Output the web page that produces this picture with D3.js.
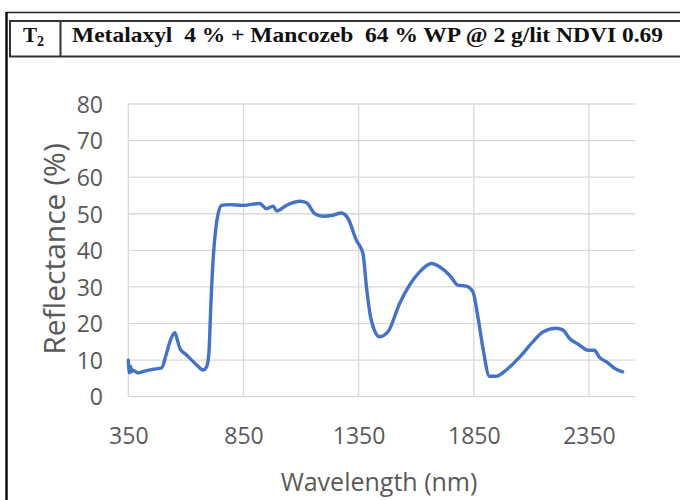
<!DOCTYPE html>
<html>
<head>
<meta charset="utf-8">
<script src="https://cdn.jsdelivr.net/npm/d3@7"></script>
<style>
  body { margin: 0; background: #fff; }
  svg { display: block; }
</style>
</head>
<body>
<div id="chart"></div>
<script>
// wavelength (nm) and reflectance (%)
const wavelength = [350, 355, 360, 365, 372, 392, 420, 458, 495, 516, 535, 552, 563, 574, 603, 625, 650, 675, 690, 700, 709, 719, 730, 740, 755, 790, 849, 921, 950, 979, 994, 1037, 1095, 1124, 1160, 1196, 1239, 1275, 1304, 1340, 1369, 1384, 1405, 1441, 1477, 1528, 1571, 1615, 1666, 1701, 1745, 1781, 1817, 1846, 1868, 1890, 1918, 1947, 1991, 2049, 2106, 2150, 2208, 2237, 2266, 2309, 2345, 2374, 2395, 2431, 2460, 2496];
const reflectance = [10, 6.5, 8.3, 6.8, 7.2, 6.5, 7, 7.5, 7.9, 11.9, 15.8, 17.5, 15.5, 13.2, 11.4, 10, 8.5, 7.3, 8.2, 12, 26, 38.2, 46, 50, 52.3, 52.5, 52.3, 52.8, 51.4, 52.1, 50.8, 52.3, 53.4, 53, 50, 49.3, 49.6, 50.2, 48.7, 42.8, 39.1, 30, 20.9, 16.4, 17.7, 25.5, 30.5, 34.1, 36.4, 35.5, 33.2, 30.5, 30.2, 28.7, 21.8, 13.2, 5.6, 5.6, 7.3, 10.8, 15, 17.7, 18.7, 18.2, 15.9, 14.1, 12.7, 12.7, 10.8, 9.3, 7.8, 6.8];
const xTicks = [350, 850, 1350, 1850, 2350];
const yTicks = [0, 10, 20, 30, 40, 50, 60, 70, 80];

const width = 680, height = 500;
const plot = { left: 128.3, right: 635, top: 104, bottom: 396.7 };

const svg = d3.select("#chart").append("svg")
  .attr("width", width)
  .attr("height", height);

// header table
svg.append("line")
  .attr("x1", 6).attr("x2", width).attr("y1", 12.5).attr("y2", 12.5)
  .attr("stroke", "#222").attr("stroke-width", 1.5);
svg.append("line")
  .attr("x1", 6.5).attr("x2", 6.5).attr("y1", 12).attr("y2", height)
  .attr("stroke", "#111").attr("stroke-width", 2.5);
svg.append("rect")
  .attr("x", 10).attr("y", 21).attr("width", width).attr("height", 35.5)
  .attr("fill", "none").attr("stroke", "#333").attr("stroke-width", 2);
svg.append("line")
  .attr("x1", 60.5).attr("x2", 60.5).attr("y1", 21).attr("y2", 56.5)
  .attr("stroke", "#333").attr("stroke-width", 2);

const serif = "'Liberation Serif', 'Times New Roman', serif";

const head = svg.append("text")
  .attr("x", 23).attr("y", 42)
  .style("font-family", serif)
  .style("font-weight", "bold")
  .style("font-size", "21px")
  .attr("fill", "#111");
head.append("tspan").text("T");
head.append("tspan").attr("dy", 4).style("font-size", "14px").text("2");

svg.append("text")
  .attr("x", 72).attr("y", 42)
  .style("font-family", serif)
  .style("font-weight", "bold")
  .style("font-size", "22px")
  .style("white-space", "pre")
  .attr("fill", "#111")
  .attr("textLength", 591)
  .attr("lengthAdjust", "spacingAndGlyphs")
  .text("Metalaxyl  4 % + Mancozeb  64 % WP @ 2 g/lit NDVI 0.69");

// scales
const x = d3.scaleLinear().domain([350, 2550]).range([plot.left, plot.right]);
const y = d3.scaleLinear().domain([0, 80]).range([plot.bottom, plot.top]);

// gridlines
svg.append("g")
  .selectAll("line")
  .data(yTicks)
  .join("line")
  .attr("x1", plot.left).attr("x2", plot.right)
  .attr("y1", (d) => y(d)).attr("y2", (d) => y(d))
  .attr("stroke", "#d9d9d9").attr("stroke-width", 1.3);

svg.append("g")
  .selectAll("line")
  .data(xTicks)
  .join("line")
  .attr("x1", (d) => x(d)).attr("x2", (d) => x(d))
  .attr("y1", plot.top).attr("y2", plot.bottom)
  .attr("stroke", "#d9d9d9").attr("stroke-width", 1.3);

const font = "'Open Sans', 'Noto Sans', sans-serif";

// y axis labels
svg.append("g")
  .call(d3.axisLeft(y).tickValues(yTicks).tickSize(0).tickPadding(0).tickFormat(d3.format("d")))
  .attr("transform", "translate(103,0)")
  .call((g) => g.select(".domain").remove())
  .call((g) => g.selectAll(".tick text")
    .style("font-family", font).style("font-size", "23px")
    .attr("fill", "#595959").attr("dy", "0.36em"));

// x axis labels
svg.append("g")
  .call(d3.axisBottom(x).tickValues(xTicks).tickSize(0).tickPadding(0).tickFormat(d3.format("d")))
  .attr("transform", "translate(0,428)")
  .call((g) => g.select(".domain").remove())
  .call((g) => g.selectAll(".tick text")
    .style("font-family", font).style("font-size", "23px")
    .attr("fill", "#595959").attr("dy", "0.71em"));

// axis titles
svg.append("text")
  .attr("x", 379).attr("y", 491)
  .attr("text-anchor", "middle")
  .style("font-family", font).style("font-size", "25px")
  .attr("fill", "#595959")
  .text("Wavelength (nm)");

svg.append("text")
  .attr("transform", "translate(65,249) rotate(-90)")
  .attr("text-anchor", "middle")
  .style("font-family", font).style("font-size", "30px")
  .attr("fill", "#595959")
  .text("Reflectance (%)");

// the spectrum
const line = d3.line()
  .x((d) => x(d[0]))
  .y((d) => y(d[1]))
  .curve(d3.curveMonotoneX);

svg.append("path")
  .datum(d3.zip(wavelength, reflectance))
  .attr("fill", "none")
  .attr("stroke", "#4472c4")
  .attr("stroke-width", 3.4)
  .attr("stroke-linejoin", "round")
  .attr("stroke-linecap", "round")
  .attr("d", line);
</script>
</body>
</html>
